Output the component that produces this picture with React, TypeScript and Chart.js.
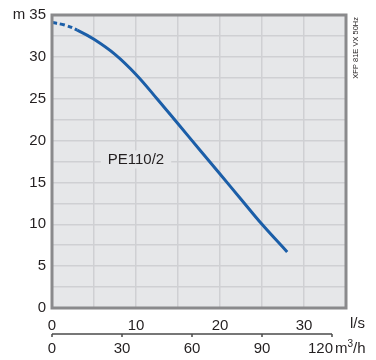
import { useEffect, useRef } from "react";
import { Chart, registerables } from "chart.js";

Chart.register(...registerables);

// Pump curve PE110/2 : flow (l/s) vs head (m)
const flowLs = [0, 1.5, 3, 5, 7.5, 10, 12.5, 15, 17.5, 20, 22.5, 25, 28];
const headM = [34.1, 33.8, 33.2, 32.1, 30.3, 27.9, 25.0, 22.0, 19.0, 16.0, 13.0, 10.0, 6.7];
const dashedUntilLs = 3;

const headTicks = [0, 5, 10, 15, 20, 25, 30, 35];
const headGrid = [0, 2.5, 5, 7.5, 10, 12.5, 15, 17.5, 20, 22.5, 25, 27.5, 30, 32.5, 35];
const lsTicks = [0, 10, 20, 30];
const lsGrid = [0, 5, 10, 15, 20, 25, 30, 35];
const m3hTicks = [0, 30, 60, 90, 120];

const curveLabel = "PE110/2";
const sideNote = "XFP 81E VX 50Hz";
const lsUnit = "l/s";

const FONT = '"Liberation Sans", Arial, Helvetica, sans-serif';
const TEXT = "#231f20";
const BG = "#e6e7e9";
const GRID = "#cfd0d3";
const FRAME = "#8a8a8c";
const BLUE = "#1b5ea8";

export default function App() {
  const ref = useRef<HTMLCanvasElement | null>(null);

  useEffect(() => {
    if (!ref.current) return;

    const deco = {
      id: "deco",
      beforeDraw(chart: any) {
        const { ctx, chartArea: a } = chart;
        ctx.save();
        ctx.fillStyle = BG;
        ctx.fillRect(a.left, a.top, a.right - a.left, a.bottom - a.top);
        ctx.restore();
      },
      afterDatasetsDraw(chart: any) {
        const { ctx, chartArea: a, scales } = chart;
        ctx.save();
        ctx.font = `15px ${FONT}`;
        const lx = scales.x.getPixelForValue(10);
        const ly = scales.y.getPixelForValue(17.5) - 2;
        const w = ctx.measureText(curveLabel).width;
        ctx.fillStyle = BG;
        ctx.fillRect(lx - w / 2 - 7, ly - 9, w + 14, 18);
        ctx.fillStyle = TEXT;
        ctx.textAlign = "center";
        ctx.textBaseline = "middle";
        ctx.fillText(curveLabel, lx, ly);
        ctx.strokeStyle = FRAME;
        ctx.lineWidth = 3;
        ctx.strokeRect(a.left, a.top, a.right - a.left, a.bottom - a.top);
        ctx.restore();
      },
      afterDraw(chart: any) {
        const { ctx, chartArea: a, scales } = chart;
        const xs = scales.x;
        ctx.save();
        ctx.font = `15px ${FONT}`;
        ctx.fillStyle = TEXT;
        ctx.textBaseline = "middle";
        ctx.textAlign = "left";
        ctx.fillText(lsUnit, a.right + 4, 324);
        const y0 = 334;
        const xEnd = xs.getPixelForValue(m3hTicks[m3hTicks.length - 1] / 3.6);
        ctx.strokeStyle = "#4a4a4a";
        ctx.lineWidth = 1.5;
        ctx.beginPath();
        ctx.moveTo(a.left, y0);
        ctx.lineTo(xEnd, y0);
        ctx.stroke();
        m3hTicks.forEach((v, i) => {
          const px = xs.getPixelForValue(v / 3.6);
          ctx.beginPath();
          ctx.moveTo(px, y0);
          ctx.lineTo(px, y0 + 3);
          ctx.stroke();
          if (i === m3hTicks.length - 1) {
            ctx.textAlign = "right";
            ctx.fillText(String(v), px + 1, 349);
          } else {
            ctx.textAlign = "center";
            ctx.fillText(String(v), px, 349);
          }
        });
        let ux = xEnd + 3;
        ctx.textAlign = "left";
        ctx.fillText("m", ux, 349);
        ux += ctx.measureText("m").width;
        ctx.font = `10px ${FONT}`;
        ctx.fillText("3", ux, 344);
        ux += ctx.measureText("3").width;
        ctx.font = `15px ${FONT}`;
        ctx.fillText("/h", ux, 349);
        ctx.font = `7.5px ${FONT}`;
        ctx.translate(a.right + 10, a.top + 2);
        ctx.rotate(-Math.PI / 2);
        ctx.textAlign = "right";
        ctx.textBaseline = "middle";
        ctx.fillText(sideNote, 0, 0);
        ctx.restore();
      },
    };

    const chart = new Chart(ref.current, {
      type: "line",
      data: {
        datasets: [
          {
            data: flowLs.map((x, i) => ({ x, y: headM[i] })),
            borderColor: BLUE,
            borderWidth: 3,
            pointRadius: 0,
            tension: 0.4,
            fill: false,
            segment: {
              borderDash: (c: any) => (c.p1.parsed.x <= dashedUntilLs ? [5, 3] : undefined),
            },
          } as any,
        ],
      },
      options: {
        animation: false,
        responsive: false,
        maintainAspectRatio: false,
        layout: { padding: { left: 0, top: 15, right: 30, bottom: 0 } },
        plugins: { legend: { display: false }, tooltip: { enabled: false } },
        scales: {
          x: {
            type: "linear",
            min: 0,
            max: 35,
            afterBuildTicks: (s: any) => {
              s.ticks = lsGrid.map((v) => ({ value: v }));
            },
            afterFit: (s: any) => {
              s.height = 52;
            },
            ticks: {
              autoSkip: false,
              maxRotation: 0,
              padding: 9,
              color: TEXT,
              font: { family: FONT, size: 15 },
              callback: (v: any) => (lsTicks.includes(Number(v)) ? String(v) : ""),
            },
            grid: { color: GRID, lineWidth: 1.5, drawTicks: false },
            border: { display: false },
          },
          y: {
            type: "linear",
            min: 0,
            max: 35,
            afterBuildTicks: (s: any) => {
              s.ticks = headGrid.map((v) => ({ value: v }));
            },
            afterFit: (s: any) => {
              s.width = 52;
            },
            ticks: {
              autoSkip: false,
              padding: 6,
              color: TEXT,
              font: { family: FONT, size: 15 },
              callback: (v: any) => {
                const n = Number(v);
                if (!headTicks.includes(n)) return "";
                return n === 35 ? "m 35" : String(n);
              },
            },
            grid: { color: GRID, lineWidth: 1.5, drawTicks: false },
            border: { display: false },
          },
        },
      } as any,
      plugins: [deco],
    });
    return () => chart.destroy();
  }, []);

  return (
    <div style={{ position: "absolute", left: 0, top: 0, width: 376, height: 360 }}>
      <canvas ref={ref} width={376} height={360} style={{ display: "block", width: 376, height: 360 }} />
    </div>
  );
}
